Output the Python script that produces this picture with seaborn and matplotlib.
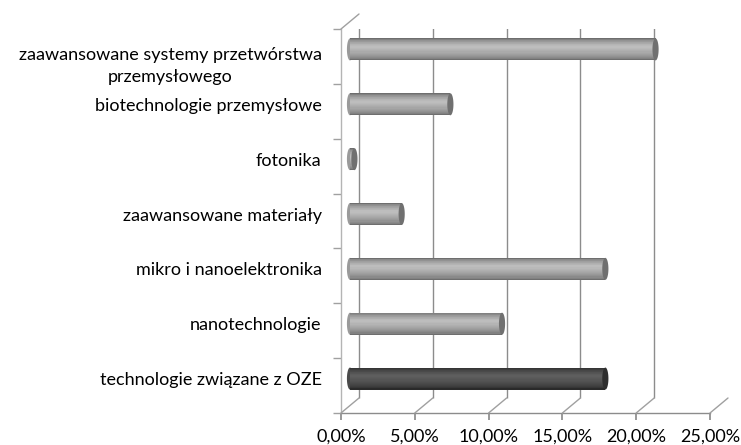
import matplotlib
matplotlib.use('Agg')
import matplotlib.pyplot as plt
import matplotlib.transforms as mtransforms
from matplotlib.colors import to_hex
from matplotlib.path import Path
from matplotlib.ticker import FuncFormatter
import numpy as np
import pandas as pd
import seaborn as sns

categories = [
    'zaawansowane systemy przetwórstwa\nprzemysłowego',
    'biotechnologie przemysłowe',
    'fotonika',
    'zaawansowane materiały',
    'mikro i nanoelektronika',
    'nanotechnologie',
    'technologie związane z OZE',
]
values = [20.7, 6.8, 0.3, 3.5, 17.3, 10.3, 17.3]
highlight = 'technologie związane z OZE'
x_ticks = [0, 5, 10, 15, 20, 25]

sns.set_theme(style='white')
plt.rcParams['font.family'] = ['Lato', 'DejaVu Sans']

df = pd.DataFrame({'kategoria': categories, 'udzial': values})
n = len(categories)

W, H = 741, 445
fig = plt.figure(figsize=(W / 100, H / 100), dpi=100)
# front plane of the pseudo-3D box
ax = fig.add_axes([341 / W, 1 - 413 / H, 369 / W, 384 / H])

depth_x, depth_y = 18, 15          # back wall offset in pixels
bar_dx, bar_dy = 9, 7              # bars sit half way in depth
grid_col = '#8c8c8c'

def shifted(dx, dy):
    return mtransforms.offset_copy(ax.transData, fig=fig, x=dx, y=dy, units='dots')

def mix(c1, c2, t):
    a = np.array(matplotlib.colors.to_rgb(c1))
    b = np.array(matplotlib.colors.to_rgb(c2))
    return to_hex(a + (b - a) * t)

# back wall gridlines and floor diagonals
ax.vlines(x_ticks, n - 0.5, -0.5, colors=grid_col, lw=1, transform=shifted(depth_x, depth_y), zorder=0.5)
for t in x_ticks:
    ax.annotate('', xy=(t, n - 0.5), xytext=(depth_x, depth_y), textcoords='offset pixels',
                arrowprops=dict(arrowstyle='-', color='#a0a0a0', lw=1, shrinkA=0, shrinkB=0),
                annotation_clip=False)
ax.annotate('', xy=(0, -0.5), xytext=(depth_x, depth_y), textcoords='offset pixels',
            arrowprops=dict(arrowstyle='-', color='#a0a0a0', lw=1, shrinkA=0, shrinkB=0),
            annotation_clip=False)

# cylinder left ends
theta = np.linspace(0, 2 * np.pi, 60)
ellipse = Path(np.column_stack([0.28 * np.cos(theta), np.sin(theta)]))
cap_size = (22 * 0.72) ** 2
pal_left = {c: ('#4a4a4a' if c == highlight else '#9a9a9a') for c in categories}
sns.scatterplot(x=np.zeros(n), y=np.arange(n), hue=categories, palette=pal_left, marker=ellipse,
                s=cap_size, linewidth=0, legend=False, ax=ax, zorder=2)
ax.collections[-1].set_offset_transform(shifted(bar_dx, bar_dy))

# cylinder bodies: stacked layers that narrow towards the highlight
n_layers = 12
widths = np.linspace(0.40, 0.04, n_layers)
lifts = np.linspace(0, 2.5, n_layers)
for k in range(n_layers):
    t = k / (n_layers - 1)
    light = mix('#6e6e6e', '#bdbdbd', t ** 0.6)
    dark = mix('#2a2a2a', '#5e5e5e', t ** 0.6)
    pal = {c: (dark if c == highlight else light) for c in categories}
    start = len(ax.patches)
    sns.barplot(data=df, x='udzial', y='kategoria', hue='kategoria', order=categories,
                palette=pal, width=widths[k], saturation=1, legend=False, ax=ax, zorder=3)
    for p in ax.patches[start:]:
        p.set_transform(shifted(bar_dx, bar_dy + lifts[k]))
        p.set_linewidth(0)

# cylinder right end caps
pal_cap = {c: ('#2e2e2e' if c == highlight else '#707070') for c in categories}
sns.scatterplot(x=values, y=np.arange(n), hue=categories, palette=pal_cap, marker=ellipse,
                s=cap_size, linewidth=0, legend=False, ax=ax, zorder=4)
ax.collections[-1].set_offset_transform(shifted(bar_dx, bar_dy))

ax.set_xlim(0, 25)
ax.set_ylim(n - 0.5, -0.5)
ax.set_xlabel('')
ax.set_ylabel('')

ax.set_xticks(x_ticks)
ax.xaxis.set_major_formatter(FuncFormatter(lambda v, _: f'{v:.2f}%'.replace('.', ',')))
ax.tick_params(axis='x', bottom=True, length=5, color=grid_col, labelsize=13, pad=6, labelcolor='black')

label_shift = bar_dy / (384 / n)
ax.set_yticks(np.arange(n) - label_shift, labels=categories)
ax.set_yticks(np.arange(n + 1) - 0.5, minor=True)
ax.tick_params(axis='y', which='major', left=False, length=0, pad=14, labelsize=13, labelcolor='black')
ax.tick_params(axis='y', which='minor', left=True, length=6, color='#a0a0a0', width=1)
for lab in ax.get_yticklabels():
    lab.set_multialignment('center')
    lab.set_linespacing(1.5)
ax.get_yticklabels()[0].set_transform(
    ax.get_yticklabels()[0].get_transform()
    + mtransforms.ScaledTranslation(0, -0.12, fig.dpi_scale_trans))

for side in ['top', 'right']:
    ax.spines[side].set_visible(False)
ax.spines['left'].set_color('#b4b4b4')
ax.spines['left'].set_linewidth(1)
ax.spines['bottom'].set_color(grid_col)
ax.spines['bottom'].set_linewidth(1)
ax.patch.set_alpha(0)

fig.savefig('out.png', dpi=100)
